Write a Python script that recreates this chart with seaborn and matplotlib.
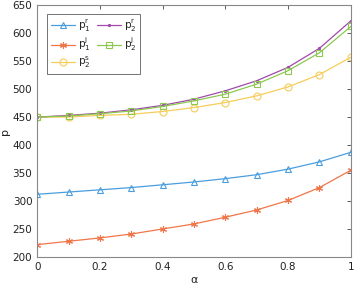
import numpy as np
import pandas as pd
import matplotlib
matplotlib.use('Agg')
import matplotlib.pyplot as plt
import seaborn as sns

sns.set_style('white')
plt.rcParams['font.family'] = ['DejaVu Sans']

# data
alpha = [0, 0.1, 0.2, 0.3, 0.4, 0.5, 0.6, 0.7, 0.8, 0.9, 1.0]
p1_r = [312, 316, 320, 324, 329, 334, 340, 347, 357, 370, 387]
p1_j = [222, 228, 234, 241, 250, 259, 271, 284, 301, 324, 355]
p2_r = [450, 453, 457, 463, 471, 482, 497, 515, 539, 573, 622]
p2_j = [450, 452, 456, 461, 469, 479, 491, 509, 533, 565, 612]
p2_s = [450, 450, 453, 455, 460, 467, 476, 488, 504, 526, 557]

series = [
    (r'$\mathregular{p_1^r}$', p1_r, '#4a9ede', '^', 'none', 5),
    (r'$\mathregular{p_1^j}$', p1_j, '#f0764a', (6, 2, 0), None, 5),
    (r'$\mathregular{p_2^s}$', p2_s, '#f5cd5a', 'o', 'none', 5),
    (r'$\mathregular{p_2^r}$', p2_r, '#a04aac', '.', None, 3),
    (r'$\mathregular{p_2^j}$', p2_j, '#8cc850', 's', 'none', 5),
]

fig = plt.figure(figsize=(3.54, 2.9), dpi=100)
ax = fig.add_axes([0.105, 0.114, 0.886, 0.868])

for name, vals, col, mk, face, ms in series:
    df = pd.DataFrame({'alpha': alpha, 'p': vals})
    sns.lineplot(data=df, x='alpha', y='p', ax=ax, color=col, marker=mk,
                 markersize=ms, markeredgecolor=col,
                 markerfacecolor=face if face else col, markeredgewidth=0.8,
                 linewidth=0.9, label=name)

ax.set_xlim(0, 1)
ax.set_ylim(200, 650)
ax.set_xticks([0, 0.2, 0.4, 0.6, 0.8, 1])
ax.set_xticklabels(['0', '0.2', '0.4', '0.6', '0.8', '1'])
ax.set_yticks(range(200, 651, 50))
ax.tick_params(direction='in', length=3, width=0.6, colors='#444444',
               labelsize=7.5, labelcolor='#222222', top=True, right=True)
for s in ax.spines.values():
    s.set_color('#888888')
    s.set_linewidth(0.8)
ax.set_xlabel('α', fontsize=8, color='#222222', labelpad=2)
ax.set_ylabel('p', fontsize=8, color='#222222', labelpad=2)

leg = ax.legend(ncol=2, loc='upper left', bbox_to_anchor=(0.015, 0.985),
                fontsize=7.5, frameon=True, fancybox=False, handlelength=2.3,
                columnspacing=0.6, handletextpad=0.3, labelspacing=0.15,
                borderpad=0.35)
leg.get_frame().set_edgecolor('#333333')
leg.get_frame().set_linewidth(0.6)

fig.savefig('out.png', dpi=100)
